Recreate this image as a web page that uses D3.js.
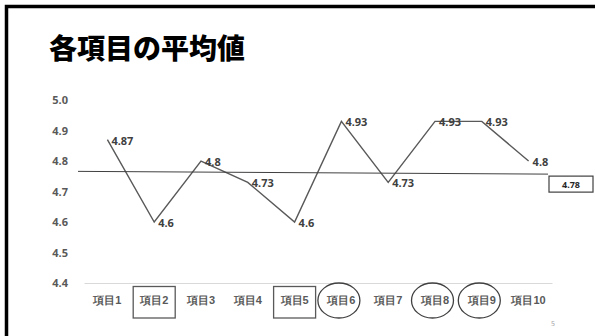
<!DOCTYPE html>
<html>
<head>
<meta charset="utf-8">
<script src="https://cdn.jsdelivr.net/npm/d3@7"></script>
<style>
  body { margin: 0; background: #fff; }
  svg { display: block; font-family: "Noto Sans CJK JP", "Noto Sans", sans-serif; }
</style>
</head>
<body>
<div class="chart"></div>
<script>
const categories = ['項目1', '項目2', '項目3', '項目4', '項目5', '項目6', '項目7', '項目8', '項目9', '項目10']
const values = [4.87, 4.6, 4.8, 4.73, 4.6, 4.93, 4.73, 4.93, 4.93, 4.8]
const yTicks = [4.4, 4.5, 4.6, 4.7, 4.8, 4.9, 5.0]
const avgLine = [4.766, 4.757]   // drawn line, left and right end
const avgLabel = '4.78'
const boxed = ['項目2', '項目5']
const circled = ['項目6', '項目8', '項目9']

const W = 595, H = 336
const margin = {top: 100, right: 43, bottom: 53, left: 84}
const width = W - margin.left - margin.right
const height = H - margin.top - margin.bottom

const svg = d3.select('.chart').append('svg')
    .attr('width', W)
    .attr('height', H)

// slide frame
svg.append('path')
    .attr('d', 'M6.5,' + H + 'V6.5H' + W)
    .attr('fill', 'none')
    .attr('stroke', '#000')
    .attr('stroke-width', 3.5)

svg.append('text')
    .attr('x', 49)
    .attr('y', 59)
    .attr('font-size', 28)
    .attr('font-weight', 900)
    .attr('fill', '#000')
    .text('各項目の平均値')

svg.append('text')
    .attr('x', 551)
    .attr('y', 326)
    .attr('font-size', 7)
    .attr('fill', '#a6a6a6')
    .text('5')

const g = svg.append('g')
    .attr('transform', 'translate(' + margin.left + ',' + margin.top + ')')

const x = d3.scaleBand()
    .domain(categories)
    .range([0, width])
const y = d3.scaleLinear()
    .domain([4.4, 5.0])
    .range([height, 0])

const cx = d => x(d) + x.bandwidth() / 2

// y axis labels only
const yAxis = g.append('g')
    .call(d3.axisLeft(y).tickValues(yTicks).tickFormat(d3.format('.1f')).tickSize(0).tickPadding(16))
yAxis.select('.domain').remove()
yAxis.selectAll('text')
    .attr('font-size', 11)
    .attr('font-weight', 'bold')
    .attr('fill', '#595959')
    .attr('font-family', '"Noto Sans", sans-serif')

// x axis
const xAxis = g.append('g')
    .attr('transform', 'translate(0,' + height + ')')
    .call(d3.axisBottom(x).tickSize(0).tickPadding(13))
xAxis.select('.domain').attr('stroke', '#d9d9d9').attr('stroke-width', 1)
xAxis.selectAll('text')
    .attr('font-size', 11)
    .attr('font-weight', 'bold')
    .attr('fill', '#595959')

// annotations around some categories
g.selectAll('.box')
    .data(boxed)
    .enter().append('rect')
    .attr('x', d => cx(d) - 21)
    .attr('y', height + 3.5)
    .attr('width', 42)
    .attr('height', 31.5)
    .attr('fill', 'none')
    .attr('stroke', '#595959')
    .attr('stroke-width', 1.3)

g.selectAll('.ring')
    .data(circled)
    .enter().append('ellipse')
    .attr('cx', d => cx(d) - 2.5)
    .attr('cy', height + 17.5)
    .attr('rx', 21)
    .attr('ry', 17.5)
    .attr('fill', 'none')
    .attr('stroke', '#404040')
    .attr('stroke-width', 1.3)

// series line
const line = d3.line()
    .x((d, i) => cx(categories[i]))
    .y(d => y(d))

g.append('path')
    .datum(values)
    .attr('d', line)
    .attr('fill', 'none')
    .attr('stroke', '#595959')
    .attr('stroke-width', 1.4)

g.selectAll('.lbl')
    .data(values)
    .enter().append('text')
    .attr('x', (d, i) => cx(categories[i]) + 4)
    .attr('y', d => y(d) + 5)
    .attr('font-size', 11)
    .attr('font-weight', 'bold')
    .attr('fill', '#404040')
    .attr('font-family', '"Noto Sans", sans-serif')
    .text(d => d)

// average line
g.append('line')
    .attr('x1', -6)
    .attr('x2', width - 4)
    .attr('y1', y(avgLine[0]))
    .attr('y2', y(avgLine[1]))
    .attr('stroke', '#404040')
    .attr('stroke-width', 1)

g.append('rect')
    .attr('x', width - 3)
    .attr('y', y(avgLine[1]) + 2)
    .attr('width', 44)
    .attr('height', 16)
    .attr('fill', '#fff')
    .attr('stroke', '#404040')
    .attr('stroke-width', 1.2)

g.append('text')
    .attr('x', width + 19)
    .attr('y', y(avgLine[1]) + 13.5)
    .attr('text-anchor', 'middle')
    .attr('font-size', 9)
    .attr('font-weight', 'bold')
    .attr('fill', '#262626')
    .attr('font-family', '"Noto Sans", sans-serif')
    .text(avgLabel)
</script>
</body>
</html>
